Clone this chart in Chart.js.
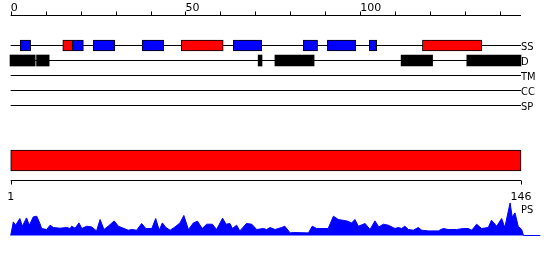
<!DOCTYPE html>
<html>
<head>
<meta charset="utf-8">
<script src="https://cdn.jsdelivr.net/npm/chart.js@4/dist/chart.umd.min.js"></script>
<style>
  html, body { margin: 0; padding: 0; background: #ffffff; }
  #wrap { position: relative; width: 550px; height: 260px; }
  canvas { display: block; }
</style>
</head>
<body>
<div id="wrap"><canvas id="c" width="550" height="260"></canvas></div>
<script>
// ---------------- data ----------------
const seqLength = 146;
const topTicks = [0, 10, 20, 30, 40, 50, 60, 70, 80, 90, 100, 110, 120, 130, 140];
const topLabelValues = [0, 50, 100];
const topLabels = ['0', '50', '100'];
const bottomTicks = [1, 146];
const bottomLabels = ['1', '146'];
const trackNames = ['SS', 'D', 'TM', 'CC', 'SP'];
const profileName = 'PS';

// secondary structure segments (start, end in residue units)
const helixSegments = [[14.9, 17.7], [48.8, 60.8], [117.8, 134.8]];
const strandSegments = [[2.7, 5.7], [17.7, 20.8], [23.6, 29.8], [37.6, 43.8], [63.7, 71.8], [83.7, 87.8], [90.6, 98.7], [102.6, 104.7]];
// disorder segments
const disorderSegments = [[-0.2, 7.0], [7.4, 11.0], [70.8, 71.9], [75.6, 86.8], [111.7, 120.7], [130.5, 146]];
// domain bar (1-based residue positions)
const domainSegments = [[1, 146]];

// PS profile (1-based residue position, height)
const psPos = [1.0,1.75,2.4,3.6,4.3,5.5,6.3,7.4,8.4,9.3,9.8,11.2,12.2,13.1,15.0,16.9,17.9,18.3,19.3,20.4,21.2,22.6,24.0,25.4,26.4,27.5,28.7,30.4,31.6,33.2,34.4,35.4,36.8,38.2,39.4,41.1,42.2,43.2,44.1,45.1,46.3,47.7,49.1,50.2,51.5,52.9,54.1,55.4,56.7,58.3,59.5,61.2,62.2,63.3,64.0,65.2,66.1,68.0,69.5,70.9,72.8,73.7,74.7,76.1,78.0,78.9,80.4,81.3,85.6,86.7,87.9,91.2,92.7,94.1,96.5,97.9,98.8,99.8,101.7,103.1,104.5,105.6,106.9,108.3,110.2,111.1,112.1,113.0,114.0,115.4,116.8,117.8,119.7,122.5,123.9,125.3,127.7,129.6,131.0,132.0,133.4,134.8,136.7,137.6,139.1,140.5,141.4,142.9,143.5,144.3,145.2,146.2,146.7,151.5];
const psVal = [0,13.6,10.3,17,9.3,17.6,10.3,18.6,19.3,12,7,6,10.3,8,7.3,8,7,9.3,7.3,12.6,7,9.3,8.6,4.6,16,6,9.3,14.6,9.3,7,5.3,6,5.3,12,7,7,17,5.3,12.6,8,5.3,8.6,12.6,20,6,12.6,14.3,7,11.3,11.3,6,17.3,11.3,12,7,10.3,4.6,12,11.3,6,7,6,8,6,8,9.3,2.6,3,2.6,9.3,7,7,19.3,16,14.6,12.6,16,9.3,12,6,14.6,8.6,11.3,10.3,7,8,7,9.3,6,5.3,8,5.3,4.6,4.6,7,6,6,7,7,5.3,11.3,7,8,15.3,9.3,17,8,32.6,18.6,22.6,9.3,6,0,0];

// ---------------- layout (rows on the pixel-like y scale) ----------------
const ROW = { ruler: 15, SS: 45, D: 60, TM: 75, CC: 90, SP: 105, domain: 160, ruler2: 180 };
const trackRows = [ROW.SS, ROW.D, ROW.TM, ROW.CC, ROW.SP];
const FONT = "'DejaVu Sans', sans-serif";
const FONT_NARROW = "'DejaVu Sans Condensed', 'Liberation Sans Narrow', 'DejaVu Sans', sans-serif";

// ---------------- datasets ----------------
const datasets = [];
trackRows.forEach((r) => {
  datasets.push({
    type: 'line', data: [{ x: 0, y: r }, { x: seqLength, y: r }],
    borderColor: '#000000', borderWidth: 1, pointRadius: 0, fill: false,
    xAxisID: 'x', yAxisID: 'y', order: 5
  });
});
function barSet(segs, row, color, thick, xAxis) {
  return {
    type: 'bar', indexAxis: 'y', grouped: false,
    data: segs.map((s) => ({ x: s, y: row })),
    backgroundColor: color, borderColor: '#000000', borderWidth: 1, borderSkipped: false,
    barThickness: thick, xAxisID: xAxis, yAxisID: 'y', order: 1
  };
}
datasets.push(barSet(strandSegments, ROW.SS, '#0000ff', 11, 'x'));
datasets.push(barSet(helixSegments, ROW.SS, '#ff0000', 11, 'x'));
const dis = barSet(disorderSegments, ROW.D, '#000000', 11, 'x');
dis.borderWidth = 0;
datasets.push(dis);
datasets.push(barSet(domainSegments, ROW.domain, '#ff0000', 21, 'x2'));
datasets.push({
  type: 'line', data: psPos.map((p, i) => ({ x: p, y: psVal[i] })),
  borderColor: '#0000ff', backgroundColor: '#0000ff', borderWidth: 1, pointRadius: 0,
  fill: 'origin', tension: 0, xAxisID: 'x2', yAxisID: 'y2', order: 2
});

// top scale: residue 0 at 10.7px, 146 at 521px; bottom: residue 1 at 10.7px, 146 at 521px
const kTop = (521 - 10.7) / seqLength;
const kBot = (521 - 10.7) / (seqLength - 1);

const rulerPlugin = {
  id: 'rulers',
  afterDatasetsDraw(chart) {
    const ctx = chart.ctx;
    const sx = chart.scales.x, sx2 = chart.scales.x2, sy = chart.scales.y;
    ctx.save();
    ctx.strokeStyle = '#000000';
    ctx.fillStyle = '#000000';
    ctx.lineWidth = 1;
    // top ruler
    const yR = sy.getPixelForValue(ROW.ruler);
    ctx.beginPath();
    ctx.moveTo(sx.getPixelForValue(0), yR);
    ctx.lineTo(sx.getPixelForValue(seqLength), yR);
    topTicks.forEach((t) => {
      const px = Math.round(sx.getPixelForValue(t)) + 0.5;
      ctx.moveTo(px, yR);
      ctx.lineTo(px, yR - 4);
    });
    ctx.stroke();
    ctx.font = '11px ' + FONT;
    ctx.textAlign = 'left';
    ctx.textBaseline = 'alphabetic';
    topLabelValues.forEach((v, i) => {
      ctx.fillText(topLabels[i], sx.getPixelForValue(v), yR - 5);
    });
    // track labels
    ctx.font = '11px ' + FONT_NARROW;
    trackNames.forEach((n, i) => {
      ctx.fillText(n, sx.getPixelForValue(seqLength), sy.getPixelForValue(trackRows[i]) + 4);
    });
    // bottom ruler
    const yB = sy.getPixelForValue(ROW.ruler2);
    ctx.beginPath();
    ctx.moveTo(sx2.getPixelForValue(bottomTicks[0]), yB);
    ctx.lineTo(sx2.getPixelForValue(bottomTicks[bottomTicks.length - 1]), yB);
    bottomTicks.forEach((t) => {
      const px = Math.round(sx2.getPixelForValue(t)) + 0.5;
      ctx.moveTo(px, yB);
      ctx.lineTo(px, yB + 4);
    });
    ctx.stroke();
    ctx.font = '11px ' + FONT;
    ctx.textAlign = 'center';
    bottomTicks.forEach((t, i) => {
      ctx.fillText(bottomLabels[i], sx2.getPixelForValue(t), yB + 19.5);
    });
    ctx.textAlign = 'left';
    ctx.font = '11px ' + FONT_NARROW;
    ctx.fillText(profileName, sx2.getPixelForValue(seqLength), yB + 32);
    ctx.restore();
  }
};

new Chart(document.getElementById('c'), {
  type: 'line',
  data: { datasets },
  options: {
    responsive: false, animation: false, devicePixelRatio: 1,
    events: [],
    layout: { padding: 0 },
    plugins: { legend: { display: false }, tooltip: { enabled: false } },
    scales: {
      x: { type: 'linear', axis: 'x', display: false, offset: false, grid: { offset: false }, min: -10.7 / kTop, max: (550 - 10.7) / kTop },
      x2: { type: 'linear', axis: 'x', display: false, offset: false, grid: { offset: false }, min: 1 - 10.7 / kBot, max: 1 + (550 - 10.7) / kBot },
      y: { type: 'linear', axis: 'y', display: false, offset: false, grid: { offset: false }, reverse: true, min: -0.5, max: 259.5 },
      y2: { type: 'linear', axis: 'y', display: false, offset: false, grid: { offset: false }, min: -24.5, max: 235.5 }
    }
  },
  plugins: [rulerPlugin]
});
</script>
</body>
</html>
